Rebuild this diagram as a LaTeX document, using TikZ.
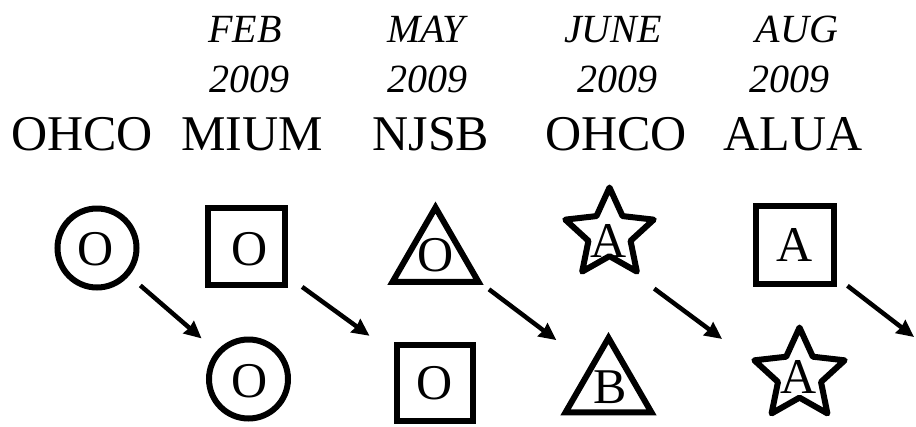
\documentclass[tikz,border=0pt]{standalone}
\usepackage{fontspec}
\setmainfont{Liberation Serif}
\usepackage{tikz}
\usetikzlibrary{arrows.meta,shapes.geometric,calc}
\tikzstyle{firm} = [anchor=base, inner sep=0pt, font=\fontsize{50}{56}\selectfont]
\tikzstyle{when} = [anchor=base, inner sep=0pt, font=\fontsize{40}{46}\selectfont\itshape]
\tikzstyle{grade} = [anchor=base, inner sep=0pt, font=\fontsize{50}{56}\selectfont]
\tikzstyle{rating} = [draw=black, line width=6pt, inner sep=0pt]
\tikzstyle{ringshape} = [rating, circle, minimum size=79pt]
\tikzstyle{boxshape} = [rating, rectangle, minimum size=77pt]
\tikzstyle{trishape} = [rating, regular polygon, regular polygon sides=3, minimum size=99pt]
\tikzstyle{starshape} = [rating, star, star points=5, star point ratio=2.1, line join=round]
\tikzstyle{trend} = [line width=4.5pt, ->, >={Stealth[length=17pt, width=16pt, inset=1pt]}]

\begin{document}
\begin{tikzpicture}[x=1pt, y=-1pt]
    \useasboundingbox (0, 0) rectangle (916, 426);

    % Dates
    \node[when] (feb) at (245, 42) {FEB};
    \node[when] (may) at (426, 42) {MAY};
    \node[when] (june) at (613, 42) {JUNE};
    \node[when] (aug) at (797, 42) {AUG};
    \node[when] (febyear) at (249, 92) {2009};
    \node[when] (mayyear) at (427, 92) {2009};
    \node[when] (juneyear) at (617, 92) {2009};
    \node[when] (augyear) at (789, 92) {2009};

    % Firms
    \node[firm] (ohco) at (82, 150) {OHCO};
    \node[firm] (mium) at (252, 150) {MIUM};
    \node[firm] (njsb) at (431, 150) {NJSB};
    \node[firm] (ohcob) at (616, 150) {OHCO};
    \node[firm] (alua) at (793, 150) {ALUA};

    % Ratings before
    \node[ringshape] (top1) at (97, 248) {};
    \node[boxshape] (top2) at (246.5, 246.5) {};
    \node[trishape] (top3) at (435.5, 257) {};
    \node[starshape, minimum size=93pt] (top4) at (609.5, 234) {};
    \node[boxshape, minimum size=78pt] (top5) at (794.5, 245) {};

    % Ratings after
    \node[ringshape] (bot2) at (248.5, 379) {};
    \node[boxshape, minimum size=76pt] (bot3) at (434.5, 383) {};
    \node[trishape] (bot4) at (608.5, 387.5) {};
    \node[starshape, minimum size=95pt] (bot5) at (799.5, 375) {};

    % Grade letters
    \node[grade] (gtop1) at (95.5, 265) {O};
    \node[grade] (gtop2) at (250, 265) {O};
    \node[grade] (gtop3) at (436, 271) {O};
    \node[grade] (gtop4) at (609, 257) {A};
    \node[grade] (gtop5) at (795, 261) {A};
    \node[grade] (gbot2) at (249.5, 397) {O};
    \node[grade] (gbot3) at (435, 399) {O};
    \node[grade] (gbot4) at (610, 403) {B};
    \node[grade] (gbot5) at (799, 393) {A};

    % Connections
    \coordinate (next) at (914, 337);
    \draw[trend] ($(top1)!0.286!(bot2)$) -- ($(top1)!0.69!(bot2)$);
    \draw[trend] ($(top2)!0.296!(bot3)$) -- ($(top2)!0.654!(bot3)$);
    \draw[trend] ($(top3)!0.286!(bot4) + (4, -5)$) -- ($(top3)!0.675!(bot4) + (4, -5)$);
    \draw[trend] ($(top4)!0.288!(bot5) + (-10, 14)$) -- ($(top4)!0.645!(bot5) + (-10, 14)$);
    \draw[trend] ($(top5)!0.443!(next)$) -- (next);
\end{tikzpicture}
\end{document}
